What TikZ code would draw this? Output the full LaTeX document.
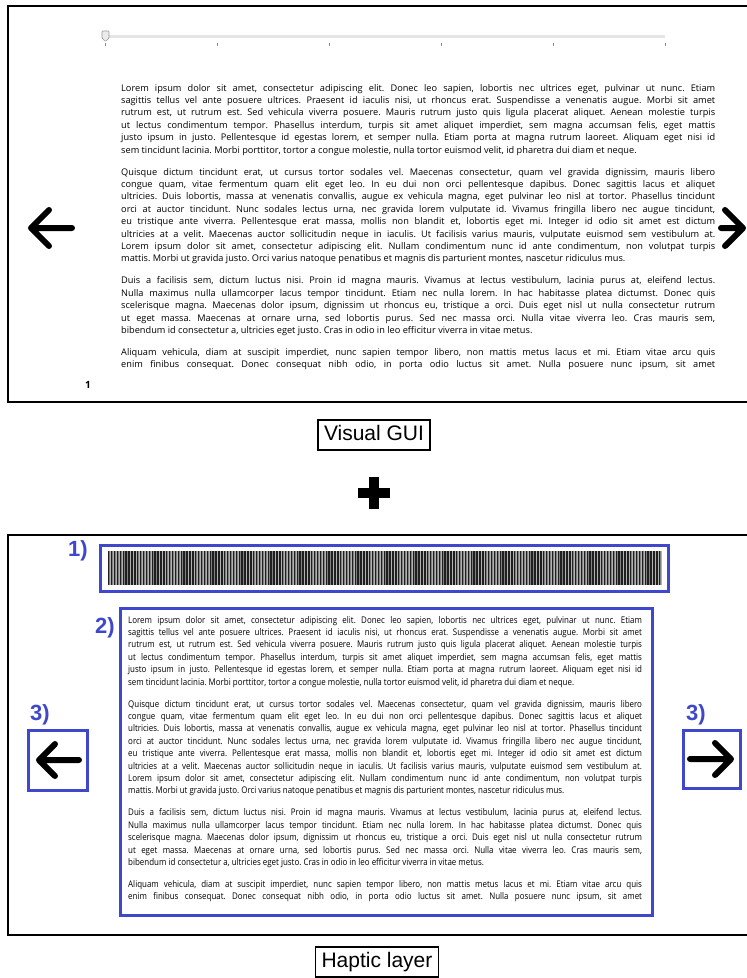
\documentclass[tikz,border=0pt]{standalone}
\usepackage{graphicx}
\usepackage{fontspec}
\setmainfont{Open Sans}
\newfontfamily\arialfont{Liberation Sans}
\definecolor{hblue}{RGB}{63,72,204}

% one justified line, one last (ragged) line, and the gap between paragraphs
\newcommand\jl[1]{\hbox to\linewidth{#1}}
\newcommand\el[1]{\hbox to\linewidth{#1\hfil}}
\newcommand\pgap{\vskip 9.6pt}

\newcommand\loremtext{%
\frenchspacing
\fontsize{9.2}{12.4}\selectfont
\jl{Lorem ipsum dolor sit amet, consectetur adipiscing elit. Donec leo sapien, lobortis nec ultrices eget, pulvinar ut nunc. Etiam}
\jl{sagittis tellus vel ante posuere ultrices. Praesent id iaculis nisi, ut rhoncus erat. Suspendisse a venenatis augue. Morbi sit amet}
\jl{rutrum est, ut rutrum est. Sed vehicula viverra posuere. Mauris rutrum justo quis ligula placerat aliquet. Aenean molestie turpis}
\jl{ut lectus condimentum tempor. Phasellus interdum, turpis sit amet aliquet imperdiet, sem magna accumsan felis, eget mattis}
\jl{justo ipsum in justo. Pellentesque id egestas lorem, et semper nulla. Etiam porta at magna rutrum laoreet. Aliquam eget nisi id}
\el{sem tincidunt lacinia. Morbi porttitor, tortor a congue molestie, nulla tortor euismod velit, id pharetra dui diam et neque.}
\pgap
\jl{Quisque dictum tincidunt erat, ut cursus tortor sodales vel. Maecenas consectetur, quam vel gravida dignissim, mauris libero}
\jl{congue quam, vitae fermentum quam elit eget leo. In eu dui non orci pellentesque dapibus. Donec sagittis lacus et aliquet}
\jl{ultricies. Duis lobortis, massa at venenatis convallis, augue ex vehicula magna, eget pulvinar leo nisl at tortor. Phasellus tincidunt}
\jl{orci at auctor tincidunt. Nunc sodales lectus urna, nec gravida lorem vulputate id. Vivamus fringilla libero nec augue tincidunt,}
\jl{eu tristique ante viverra. Pellentesque erat massa, mollis non blandit et, lobortis eget mi. Integer id odio sit amet est dictum}
\jl{ultricies at a velit. Maecenas auctor sollicitudin neque in iaculis. Ut facilisis varius mauris, vulputate euismod sem vestibulum at.}
\jl{Lorem ipsum dolor sit amet, consectetur adipiscing elit. Nullam condimentum nunc id ante condimentum, non volutpat turpis}
\el{mattis. Morbi ut gravida justo. Orci varius natoque penatibus et magnis dis parturient montes, nascetur ridiculus mus.}
\pgap
\jl{Duis a facilisis sem, dictum luctus nisi. Proin id magna mauris. Vivamus at lectus vestibulum, lacinia purus at, eleifend lectus.}
\jl{Nulla maximus nulla ullamcorper lacus tempor tincidunt. Etiam nec nulla lorem. In hac habitasse platea dictumst. Donec quis}
\jl{scelerisque magna. Maecenas dolor ipsum, dignissim ut rhoncus eu, tristique a orci. Duis eget nisl ut nulla consectetur rutrum}
\jl{ut eget massa. Maecenas at ornare urna, sed lobortis purus. Sed nec massa orci. Nulla vitae viverra leo. Cras mauris sem,}
\el{bibendum id consectetur a, ultricies eget justo. Cras in odio in leo efficitur viverra in vitae metus.}
\pgap
\jl{Aliquam vehicula, diam at suscipit imperdiet, nunc sapien tempor libero, non mattis metus lacus et mi. Etiam vitae arcu quis}
\jl{enim finibus consequat. Donec consequat nibh odio, in porta odio luctus sit amet. Nulla posuere nunc ipsum, sit amet}%
}

\begin{document}
\begin{tikzpicture}[x=1pt,y=-1pt,
  frame/.style={line width=2pt},
  hbox/.style={draw=hblue,line width=3pt},
  tag/.style={text=hblue,font=\arialfont\bfseries\fontsize{22}{22}\selectfont,inner sep=0pt},
  caption/.style={draw,line width=1.2pt,font=\arialfont\fontsize{21}{23}\selectfont,
    text height=15.5pt,text depth=4.5pt,inner xsep=6pt,inner ysep=5pt},
  navarrow/.style={line width=6pt,line cap=round,line join=round},
  tick/.style={black!45,line width=0.8pt}
]
\useasboundingbox (0,0) rectangle (747,978);
\fill[white] (0,0) rectangle (747,978);

% ---------- visual GUI panel ----------
\draw[frame] (747,6) -- (8,6) -- (8,402) -- (747,402);

% page slider
\draw[line width=3pt,black!10] (105,36) -- (665,36);
\foreach \x in {105,217,329,441,553,665}
  \draw[tick] (\x,43) -- (\x,46);
\filldraw[fill=black!8,draw=black!40,line width=0.6pt,rounded corners=0.8pt]
  (102,31) -- (109,31) -- (109,38) -- (105.5,41.5) -- (102,38) -- cycle;

% page text and number
\node[anchor=base west,inner sep=0pt] (guitext) at (121,91)
  {\begin{minipage}[t]{594pt}\loremtext\end{minipage}};
\node[anchor=base,inner sep=0pt,font=\bfseries\fontsize{10}{10}\selectfont] (pagenum) at (88,388) {1};

% page turning arrows
\draw[navarrow] (72,228) -- (31,228) (49,210) -- (31,228) -- (49,246);
\draw[navarrow] (721,228) -- (743,228) (725,210) -- (743,228) -- (725,246);

\node[caption] (gui) at (374,435) {Visual GUI};

% plus sign
\fill (358,488) rectangle (390,498);
\fill (369,477) rectangle (379,509);

% ---------- haptic layer panel ----------
\draw[frame] (747,535) -- (8,535) -- (8,935) -- (747,935);

% 1) slider texture
\draw[hbox] (100,545) rectangle (668,591);
\fill[black!50] (108,551) rectangle (662,585);
\foreach \i in {0,...,190} {
  \fill[black!88] ({108+\i*2.9},551) rectangle ({109.4+\i*2.9},585);
  \fill[black!30] ({110.1+\i*2.9},551) rectangle ({110.7+\i*2.9},585);
}
\node[tag] (t1) at (78,551) {1)};

% 2) text area
\draw[hbox] (120,608) rectangle (652,915);
\node[anchor=base west,inner sep=0pt] (haptext) at (128,623)
  {\scalebox{0.865}[1]{\begin{minipage}[t]{594pt}\loremtext\end{minipage}}};
\node[tag] (t2) at (105,628) {2)};

% 3) arrow buttons
\draw[hbox] (28,730) rectangle (87,790);
\draw[navarrow] (79,760) -- (39,760) (55,744) -- (39,760) -- (55,776);
\node[tag] (t3l) at (40,715) {3)};
\draw[hbox] (683,730) rectangle (740,788);
\draw[navarrow] (690,759) -- (731,759) (715,743) -- (731,759) -- (715,775);
\node[tag] (t3r) at (696,715) {3)};

\node[caption] (hap) at (377,962) {Haptic layer};
\end{tikzpicture}
\end{document}
